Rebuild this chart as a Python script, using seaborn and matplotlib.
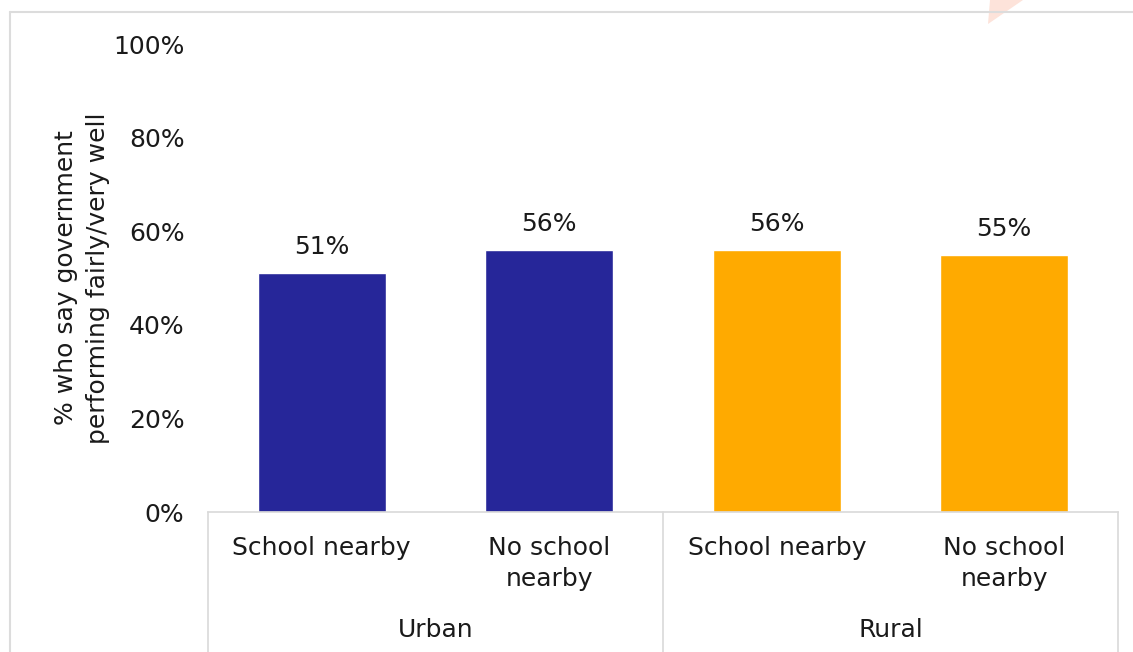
import matplotlib
matplotlib.use("Agg")
import matplotlib.pyplot as plt
from matplotlib.lines import Line2D
from matplotlib.patches import Polygon
import seaborn as sns
import pandas as pd

# Survey results by location and proximity to a school
groups = ["Urban", "Urban", "Rural", "Rural"]
categories = ["School nearby", "No school\nnearby", "School nearby", "No school\nnearby"]
values = [0.51, 0.56, 0.56, 0.55]
group_names = ["Urban", "Rural"]
group_colors = {"Urban": "#262699", "Rural": "#FFAA00"}
y_ticks = [0, 0.2, 0.4, 0.6, 0.8, 1.0]
y_label = "% who say government\nperforming fairly/very well"

df = pd.DataFrame({
    "key": [f"{g}|{c}" for g, c in zip(groups, categories)],
    "group": groups,
    "category": categories,
    "value": values,
})

sns.set_theme(style="white")
plt.rcParams["font.family"] = ["DejaVu Sans"]
FS = 18
TXT = "#1a1a1a"

W, H = 1133, 652
fig = plt.figure(figsize=(W / 100, H / 100), dpi=100)
ax = fig.add_axes([208 / W, 1 - 512 / H, (1118 - 208) / W, (512 - 44) / H])

sns.barplot(data=df, x="key", y="value", hue="group", palette=group_colors,
            hue_order=group_names, order=list(df["key"]), dodge=False,
            width=0.5625, saturation=1, legend=False, ax=ax)

ax.set_ylim(0, 1.0)
ax.set_xlim(-0.5, len(values) - 0.5)
ax.set_yticks(y_ticks)
ax.set_yticklabels([f"{int(round(t * 100))}%" for t in y_ticks], fontsize=FS, color=TXT)
ax.tick_params(axis="y", length=0, pad=17)
ax.set_xticks([])
ax.set_xlabel("")
ax.set_ylabel(y_label, fontsize=FS, color=TXT, labelpad=2, linespacing=1.45)

for side in ["top", "right", "left"]:
    ax.spines[side].set_visible(False)
ax.spines["bottom"].set_color("#D9D9D9")
ax.spines["bottom"].set_linewidth(1.2)

# Value labels above bars
for container in ax.containers:
    ax.bar_label(container, labels=[f"{v * 100:.0f}%" for v in container.datavalues],
                 padding=10, fontsize=FS, color=TXT)

# Category labels below the axis
for i, cat in enumerate(categories):
    ax.text(i, -0.051, cat, transform=ax.get_xaxis_transform(), ha="center", va="top",
            fontsize=FS, color=TXT, linespacing=1.4)

# Group labels and separators
n_per = len(values) // len(group_names)
for gi, g in enumerate(group_names):
    center = gi * n_per + (n_per - 1) / 2
    ax.text(center, -0.226, g, transform=ax.get_xaxis_transform(), ha="center", va="top",
            fontsize=FS, color=TXT)
for xs in [-0.5, 1.5, 3.5]:
    ax.add_line(Line2D([xs, xs], [0, -0.3], transform=ax.get_xaxis_transform(),
                       color="#D9D9D9", lw=1.2, clip_on=False))

# Outer frame and corner decoration
fig.add_artist(Polygon([[990 / W, 1.0], [1023 / W, 1.0], [988 / W, 1 - 24 / H]],
                       closed=True, transform=fig.transFigure, facecolor="#FDE3DA",
                       edgecolor="none", zorder=0))
fig.add_artist(Line2D([10 / W, 1.0], [1 - 11.5 / H, 1 - 11.5 / H], transform=fig.transFigure,
                      color="#DCDCDC", lw=1.5))
fig.add_artist(Line2D([10 / W, 10 / W], [1 - 11.5 / H, 0], transform=fig.transFigure,
                      color="#DCDCDC", lw=1.5))

fig.savefig("out.png", dpi=100)
